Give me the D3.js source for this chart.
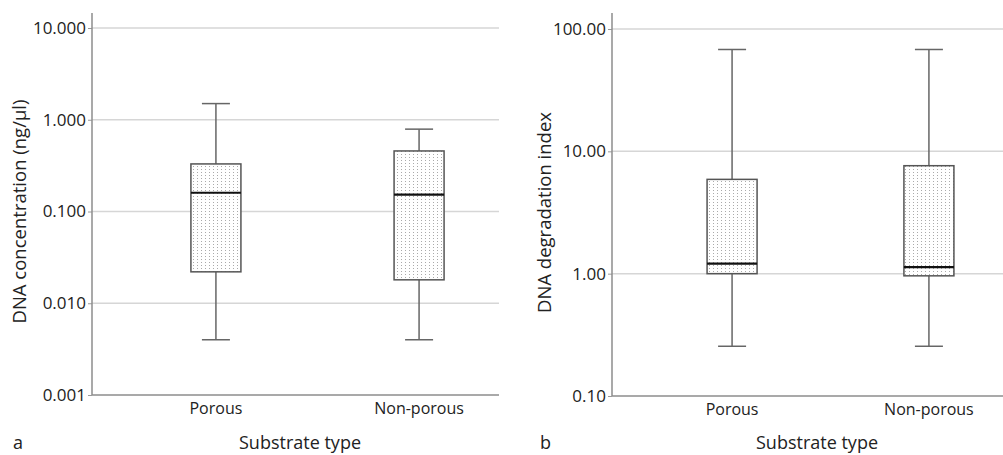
<!DOCTYPE html>
<html>
<head>
<meta charset="utf-8">
<script src="https://cdn.jsdelivr.net/npm/d3@7"></script>
<style>
  body { margin: 0; background: #fff; }
  svg { display: block; font-family: "Open Sans", sans-serif; }
</style>
</head>
<body>
<div id="chart"></div>
<script>
// categories shared by both panels
const categories = ['Porous', 'Non-porous'];

// panel a: DNA concentration (ng/µl)
const concMin    = [0.004, 0.004];
const concQ1     = [0.022, 0.018];
const concMedian = [0.16, 0.153];
const concQ3     = [0.33, 0.457];
const concMax    = [1.5, 0.79];
const concTicks  = [0.001, 0.01, 0.1, 1, 10];

// panel b: DNA degradation index
const degMin    = [0.255, 0.255];
const degQ1     = [1.0, 0.96];
const degMedian = [1.21, 1.13];
const degQ3     = [5.9, 7.63];
const degMax    = [68, 68];
const degTicks  = [0.1, 1, 10, 100];

const width = 1003, height = 455;

const svg = d3.select('#chart').append('svg')
  .attr('width', width)
  .attr('height', height);

// dotted fill used inside the boxes
const pat = svg.append('defs').append('pattern')
  .attr('id', 'dots')
  .attr('patternUnits', 'userSpaceOnUse')
  .attr('width', 4)
  .attr('height', 3);
pat.append('rect').attr('width', 4).attr('height', 3).attr('fill', '#fff');
pat.append('rect').attr('x', 1).attr('y', 1).attr('width', 1).attr('height', 1).attr('fill', '#aaa');

function drawPanel(opts) {
  const { stats, ticks, fmt, left, right, yTop, yBottom, axisTop, xRangeEnd, title, letter, letterX, titleX, yTitleX } = opts;

  const g = svg.append('g');

  const y = d3.scaleLog().domain([ticks[0], ticks[ticks.length - 1]]).range([yBottom, yTop]);
  const x = d3.scalePoint().domain(categories).range([left, xRangeEnd]).padding(0.61);

  // gridlines
  g.selectAll('line.grid')
    .data(ticks.slice(1))
    .join('line')
    .attr('class', 'grid')
    .attr('x1', left).attr('x2', right)
    .attr('y1', d => y(d)).attr('y2', d => y(d))
    .attr('stroke', '#d6d6d6')
    .attr('stroke-width', 1.5);

  // y axis
  const yAxis = d3.axisLeft(y).tickValues(ticks).tickFormat(d3.format(fmt)).tickSize(4).tickPadding(2);
  const ya = g.append('g')
    .attr('transform', 'translate(' + left + ',0)')
    .call(yAxis);
  ya.select('.domain').remove();
  ya.selectAll('.tick line').attr('stroke', '#999');
  ya.selectAll('.tick text').attr('font-size', 17).attr('fill', '#222').attr('font-family', '"Open Sans", sans-serif');

  g.append('line')
    .attr('x1', left).attr('x2', left)
    .attr('y1', axisTop).attr('y2', yBottom)
    .attr('stroke', '#8c8c8c').attr('stroke-width', 1.5);
  g.append('line')
    .attr('x1', left).attr('x2', right)
    .attr('y1', yBottom).attr('y2', yBottom)
    .attr('stroke', '#8c8c8c').attr('stroke-width', 1.5);

  // category labels
  g.selectAll('text.cat')
    .data(categories)
    .join('text')
    .attr('class', 'cat')
    .attr('x', d => x(d))
    .attr('y', yBottom + 19)
    .attr('text-anchor', 'middle')
    .attr('font-size', 16)
    .attr('fill', '#222')
    .text(d => d);

  const boxW = 50, capW = 28;
  const rows = categories.map((c, i) => ({
    c, min: stats.min[i], q1: stats.q1[i], med: stats.med[i], q3: stats.q3[i], max: stats.max[i]
  }));

  const box = g.selectAll('g.box').data(rows).join('g').attr('class', 'box');

  // whiskers
  box.append('line')
    .attr('x1', d => x(d.c)).attr('x2', d => x(d.c))
    .attr('y1', d => y(d.max)).attr('y2', d => y(d.min))
    .attr('stroke', '#666').attr('stroke-width', 1.5);
  box.append('line')
    .attr('x1', d => x(d.c) - capW / 2).attr('x2', d => x(d.c) + capW / 2)
    .attr('y1', d => y(d.max)).attr('y2', d => y(d.max))
    .attr('stroke', '#666').attr('stroke-width', 1.5);
  box.append('line')
    .attr('x1', d => x(d.c) - capW / 2).attr('x2', d => x(d.c) + capW / 2)
    .attr('y1', d => y(d.min)).attr('y2', d => y(d.min))
    .attr('stroke', '#666').attr('stroke-width', 1.5);

  // box
  box.append('rect')
    .attr('x', d => x(d.c) - boxW / 2)
    .attr('width', boxW)
    .attr('y', d => y(d.q3))
    .attr('height', d => y(d.q1) - y(d.q3))
    .attr('fill', 'url(#dots)')
    .attr('stroke', '#555')
    .attr('stroke-width', 1.5);

  // median
  box.append('line')
    .attr('x1', d => x(d.c) - boxW / 2).attr('x2', d => x(d.c) + boxW / 2)
    .attr('y1', d => y(d.med)).attr('y2', d => y(d.med))
    .attr('stroke', '#111').attr('stroke-width', 2.2);

  // axis titles
  g.append('text')
    .attr('transform', 'translate(' + yTitleX + ',' + ((yTop + yBottom) / 2) + ') rotate(-90)')
    .attr('text-anchor', 'middle')
    .attr('dy', '0.35em')
    .attr('font-size', 18.5)
    .attr('fill', '#222')
    .text(title);

  g.append('text')
    .attr('x', titleX)
    .attr('y', 449)
    .attr('text-anchor', 'middle')
    .attr('font-size', 18)
    .attr('fill', '#222')
    .text('Substrate type');

  g.append('text')
    .attr('x', letterX)
    .attr('y', 449)
    .attr('font-size', 18)
    .attr('fill', '#222')
    .text(letter);
}

drawPanel({
  stats: { min: concMin, q1: concQ1, med: concMedian, q3: concQ3, max: concMax },
  ticks: concTicks, fmt: '.3f',
  left: 92, right: 499, xRangeEnd: 543,
  yTop: 28, yBottom: 395, axisTop: 13,
  title: 'DNA concentration (ng/µl)', yTitleX: 20,
  titleX: 300, letter: 'a', letterX: 13
});

drawPanel({
  stats: { min: degMin, q1: degQ1, med: degMedian, q3: degQ3, max: degMax },
  ticks: degTicks, fmt: '.2f',
  left: 612, right: 1003, xRangeEnd: 1049,
  yTop: 29, yBottom: 396, axisTop: 13,
  title: 'DNA degradation index', yTitleX: 545,
  titleX: 817, letter: 'b', letterX: 540
});
</script>
</body>
</html>
